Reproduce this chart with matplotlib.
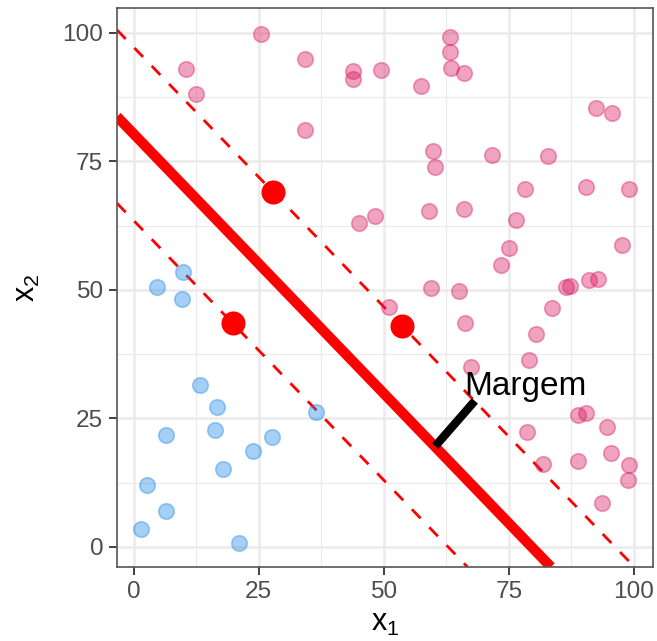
import matplotlib
matplotlib.use("Agg")
import matplotlib.pyplot as plt
from matplotlib.ticker import MultipleLocator

plt.rcParams['font.family'] = ['Liberation Sans', 'DejaVu Sans']
plt.rcParams['mathtext.fontset'] = 'custom'
plt.rcParams['mathtext.rm'] = 'Liberation Sans'

# data
pink_x = [25.5, 34.2, 10.5, 43.8, 43.8, 49.4, 12.4, 34.3, 45.1, 48.3,
          63.2, 63.2, 63.4, 66.0, 57.4, 92.5, 95.6, 59.9, 60.2, 71.7, 82.8,
          78.3, 90.4, 99.1, 59.1, 66.0, 76.5, 75.0, 73.5, 97.7, 91.1, 92.9,
          86.5, 87.3, 59.4, 65.0, 51.1, 66.2, 83.6, 80.5, 79.1, 67.5, 88.8,
          90.4, 94.7, 78.6, 95.4, 88.8, 81.8, 99.1, 98.8, 93.6, 27.9, 53.6]
pink_y = [99.8, 94.8, 92.9, 92.5, 91.0, 92.7, 88.1, 81.1, 62.9, 64.3,
          99.2, 96.3, 93.1, 92.2, 89.6, 85.3, 84.3, 77.0, 73.8, 76.3, 76.0,
          69.6, 70.0, 69.7, 65.4, 65.8, 63.6, 58.2, 54.8, 58.8, 52.0, 52.2,
          50.5, 50.7, 50.3, 49.8, 46.7, 43.6, 46.4, 41.5, 36.3, 34.9, 25.6,
          26.1, 23.3, 22.3, 18.3, 16.7, 16.1, 16.0, 13.0, 8.6, 69.1, 43.0]
blue_x = [4.6, 9.6, 9.8, 13.2, 16.6, 16.2, 6.5, 23.9, 27.6, 17.8, 36.4,
          2.6, 6.4, 1.4, 21.1, 19.8]
blue_y = [50.6, 48.3, 53.5, 31.5, 27.2, 22.8, 21.7, 18.7, 21.3, 15.1, 26.3,
          12.1, 7.0, 3.4, 0.7, 43.5]
sv_x = [27.9, 53.6, 19.8]
sv_y = [69.1, 43.0, 43.5]

slope = -1.01
intercept_mid = 80.35
intercept_lo = 63.5
intercept_hi = 97.2

margin_x = [60.3, 68.2]
margin_y = [19.6, 28.4]
margin_label = "Margem"

ticks = [0, 25, 50, 75, 100]

fig = plt.figure(figsize=(6.57, 6.41), dpi=100)
ax = fig.add_axes([117/657, 1-567/641, (653-117)/657, (567-8)/641])

ax.set_xlim(-3.3, 103.8)
ax.set_ylim(-3.9, 104.8)

ax.xaxis.set_minor_locator(MultipleLocator(12.5))
ax.yaxis.set_minor_locator(MultipleLocator(12.5))
ax.grid(which='major', color='#EBEBEB', lw=1.8, zorder=0)
ax.grid(which='minor', color='#EBEBEB', lw=0.9, zorder=0)
ax.set_axisbelow(True)
ax.tick_params(which='minor', length=0)
ax.tick_params(which='major', length=5.5, width=1.3, color='#333333',
               labelsize=17.6, labelcolor='#4D4D4D', pad=4.4)
for s in ax.spines.values():
    s.set_color('#555555')
    s.set_linewidth(1.2)

ax.axline((0, intercept_hi), slope=slope, color='red', lw=2.0,
          dashes=(4.5, 4.5), zorder=2)
ax.axline((0, intercept_lo), slope=slope, color='red', lw=2.0,
          dashes=(4.5, 4.5), zorder=2)
ax.axline((0, intercept_mid), slope=slope, color='red', lw=7.4,
          solid_capstyle='butt', zorder=2)

ax.scatter(pink_x, pink_y, s=125, color='#D81B60', alpha=0.4,
           linewidths=1.2, zorder=3)
ax.scatter(blue_x, blue_y, s=125, color='#1E88E5', alpha=0.4,
           linewidths=1.2, zorder=3)
ax.scatter(sv_x, sv_y, s=300, color='red', linewidths=0, zorder=4)

ax.plot(margin_x, margin_y, color='black', lw=6, solid_capstyle='butt',
        zorder=5)
ax.text(66.0, 29.5, margin_label, fontsize=24, ha='left', va='baseline',
        color='black', zorder=6)

ax.set_xticks(ticks)
ax.set_yticks(ticks)
ax.set_xlabel(r'$\mathregular{x_1}$', fontsize=22, labelpad=4)
ax.set_ylabel(r'$\mathregular{x_2}$', fontsize=22, labelpad=15)

fig.savefig('out.png', dpi=100)
